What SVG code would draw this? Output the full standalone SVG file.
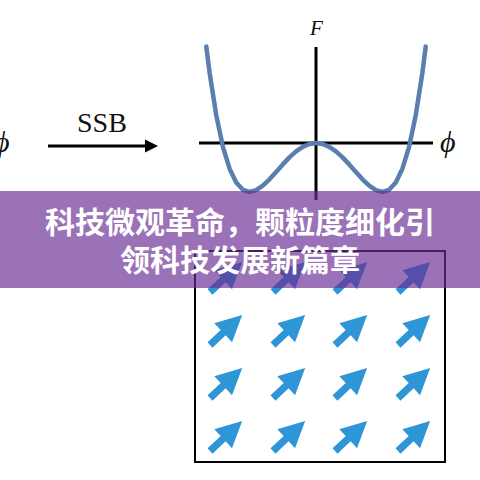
<svg xmlns="http://www.w3.org/2000/svg" width="480" height="480" viewBox="0 0 480 480">
<style>
.serif{font-family:"Liberation Serif","Times New Roman",serif;fill:#111}
.it{font-style:italic}
.ax{stroke:#000;stroke-width:3;fill:none}
.curve{stroke:#5a7fae;stroke-width:4.5;fill:none;stroke-linejoin:round;stroke-linecap:round}
.arr{fill:#2e96d6}
.title{font-family:"Noto Sans CJK SC","Noto Sans",sans-serif;font-weight:bold;font-size:30px;fill:#fff;text-anchor:middle}
</style>
<defs>
<path id="arrow" d="M0,-3.6 L18,-3.6 L18,-13 L44,0 L18,13 L18,3.6 L0,3.6 Z"/>
</defs>
<rect width="480" height="480" fill="#fff"/>
<g id="left-phi"><text class="serif it" x="-6" y="152" font-size="30">ϕ</text></g>
<g id="ssb">
<text class="serif" x="77" y="132" font-size="28">SSB</text>
</g>
<g id="connectors">
<line x1="48" y1="146" x2="146" y2="146" stroke="#000" stroke-width="3"/>
<path d="M145,139.5 L158,146 L145,152.5 Z" fill="#000"/>
</g>
<g id="plot">
<line class="ax" x1="316" y1="47" x2="316" y2="200"/>
<line class="ax" x1="199" y1="143" x2="433" y2="143"/>
<path class="curve" d="M206.3,46.6 L209.6,72.8 L216.3,115.4 L222.9,146.8 L229.6,168.7 L236.2,182.5 L242.9,189.8 L249.5,192 L256.2,190.2 L262.8,185.7 L269.5,179.3 L276.1,171.9 L282.8,164.4 L289.4,157.4 L296.1,151.4 L302.7,146.8 L309.4,144 L316,143 L322.6,144 L329.3,146.8 L335.9,151.4 L342.6,157.4 L349.2,164.4 L355.9,171.9 L362.5,179.3 L369.2,185.7 L375.8,190.2 L382.5,192 L389.1,189.8 L395.8,182.5 L402.4,168.7 L409.1,146.8 L415.7,115.4 L422.4,72.8 L425.7,46.6"/>
<text class="serif it" x="310" y="35" font-size="21">F</text>
<text class="serif it" x="440" y="152" font-size="30">ϕ</text>
</g>
<g id="grid">
<rect x="195" y="251" width="250" height="211" fill="none" stroke="#000" stroke-width="2"/>
<g class="arr">
<use href="#arrow" transform="translate(210,292) rotate(-43)"/>
<use href="#arrow" transform="translate(273,292) rotate(-43)"/>
<use href="#arrow" transform="translate(335,292) rotate(-43)"/>
<use href="#arrow" transform="translate(398,292) rotate(-43)"/>
<use href="#arrow" transform="translate(210,345) rotate(-43)"/>
<use href="#arrow" transform="translate(273,345) rotate(-43)"/>
<use href="#arrow" transform="translate(335,345) rotate(-43)"/>
<use href="#arrow" transform="translate(398,345) rotate(-43)"/>
<use href="#arrow" transform="translate(210,398) rotate(-43)"/>
<use href="#arrow" transform="translate(273,398) rotate(-43)"/>
<use href="#arrow" transform="translate(335,398) rotate(-43)"/>
<use href="#arrow" transform="translate(398,398) rotate(-43)"/>
<use href="#arrow" transform="translate(210,451) rotate(-43)"/>
<use href="#arrow" transform="translate(273,451) rotate(-43)"/>
<use href="#arrow" transform="translate(335,451) rotate(-43)"/>
<use href="#arrow" transform="translate(398,451) rotate(-43)"/>
</g>
</g>
<g id="banner">
<rect x="0" y="191" width="480" height="97" fill="#6a2d94" fill-opacity="0.67"/>
<text class="title" x="240" y="233">科技微观革命，颗粒度细化引</text>
<text class="title" x="240" y="271">领科技发展新篇章</text>
</g>
</svg>
